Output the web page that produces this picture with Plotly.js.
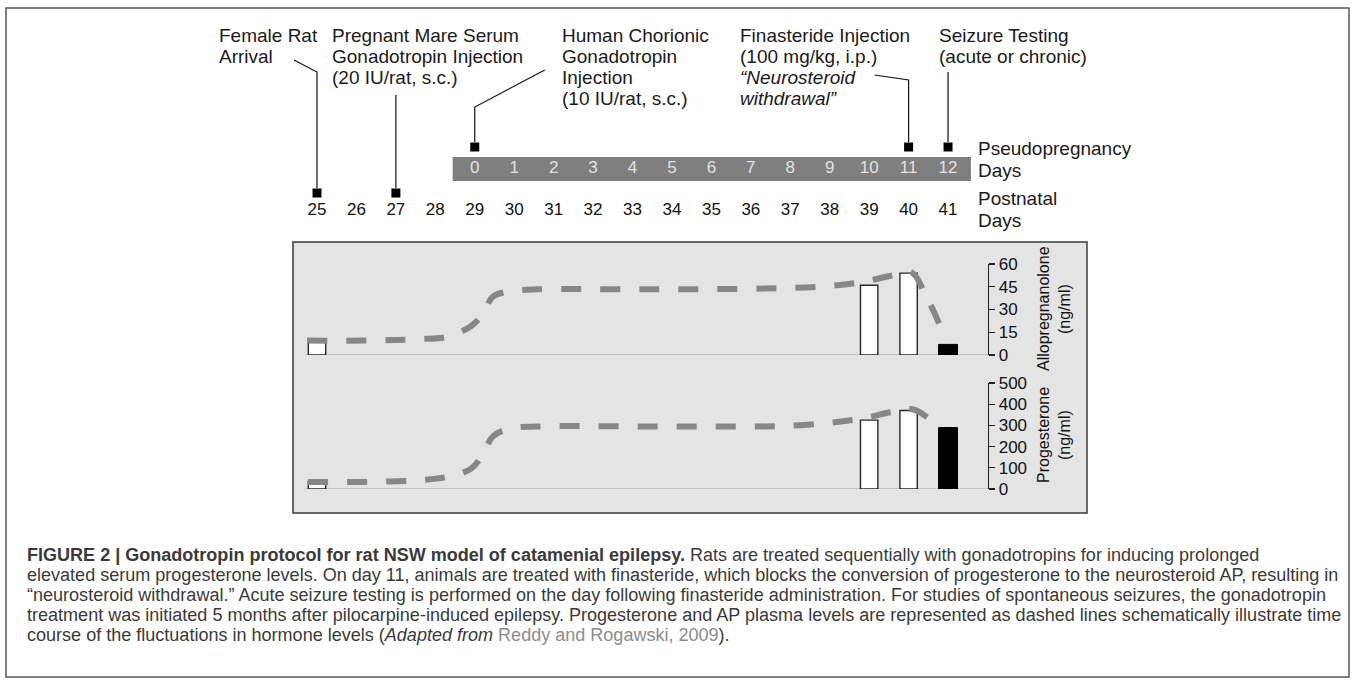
<!DOCTYPE html>
<html><head><meta charset="utf-8">
<script src="https://cdn.plot.ly/plotly-3.0.1.min.js"></script>
<style>html,body{margin:0;padding:0;background:#fff;}#chart{width:1355px;height:681px;}</style>
</head><body><div id="chart"></div>
<script>
// ---------------- DATA ----------------
const postnatalDays = [25,26,27,28,29,30,31,32,33,34,35,36,37,38,39,40,41];
const pseudoDayLabels = ['0','1','2','3','4','5','6','7','8','9','10','11','12'];
const pseudoDayZeroPostnatal = 29;           // pseudopregnancy day 0 = postnatal day 29
const eventDays = [25, 27, 29, 40, 41];       // postnatal days of protocol events
const eventTexts = [
  ['Female Rat','Arrival'],
  ['Pregnant Mare Serum','Gonadotropin Injection','(20 IU/rat, s.c.)'],
  ['Human Chorionic','Gonadotropin','Injection','(10 IU/rat, s.c.)'],
  ['Finasteride Injection','(100 mg/kg, i.p.)','<i>“Neurosteroid</i>','<i>withdrawal”</i>'],
  ['Seizure Testing','(acute or chronic)']
];
const whiteBarDays = [25, 39, 40];
const blackBarDays = [41];
const alloWhite = [10, 46, 54];
const alloBlack = [7];
const progWhite = [35, 325, 370];
const progBlack = [290];
const alloCurveDays = [24.75, 26.5, 27.6, 28.3, 28.9, 29.2, 29.46, 29.9, 30.6, 33.5, 36.7, 38.0, 38.9, 39.6, 40.1, 40.4, 40.65, 40.93];
const alloCurveVals = [9.5, 9.6, 10.5, 12, 19, 27, 38.5, 42, 43.3, 43.3, 44, 45.5, 48.5, 52.5, 54, 41, 28, 11];
const progCurveDays = [24.77, 26.5, 27.6, 28.3, 28.9, 29.2, 29.46, 29.9, 30.6, 33.5, 36.7, 38.0, 38.9, 39.6, 40.1, 40.5, 40.8];
const progCurveVals = [33, 34, 42, 57, 95, 162, 248, 286, 295, 295, 297, 312, 335, 365, 376, 335, 290];
const alloTicks = [0, 15, 30, 45, 60];
const progTicks = [0, 100, 200, 300, 400, 500];
const alloTitle = 'Allopregnanolone';
const progTitle = 'Progesterone';
const unitText = '(ng/ml)';
const captionLines = [
  '<b>FIGURE 2 | Gonadotropin protocol for rat NSW model of catamenial epilepsy.</b> Rats are treated sequentially with gonadotropins for inducing prolonged',
  'elevated serum progesterone levels. On day 11, animals are treated with finasteride, which blocks the conversion of progesterone to the neurosteroid AP, resulting in',
  '“neurosteroid withdrawal.” Acute seizure testing is performed on the day following finasteride administration. For studies of spontaneous seizures, the gonadotropin',
  'treatment was initiated 5 months after pilocarpine-induced epilepsy. Progesterone and AP plasma levels are represented as dashed lines schematically illustrate time',
  'course of the fluctuations in hormone levels (<i>Adapted from</i> <span style="color:#8c8c8c">Reddy and Rogawski, 2009</span>).'
];

// ---------------- LAYOUT GEOMETRY ----------------
const W = 1355, H = 681;
const PX_PER_DAY = 39.44, DAY25_PX = 317;
const x0 = 25 - DAY25_PX / PX_PER_DAY, x1 = x0 + W / PX_PER_DAY;
const FONT = 'Liberation Sans, Arial, Helvetica, sans-serif';
const px = v => v / W;
const dpx = p => p / PX_PER_DAY; // pixel offset -> day offset

function fitSize(text, target){
  const c = document.createElement('canvas').getContext('2d');
  c.font = '100px ' + FONT;
  return 100 * target / c.measureText(text).width;
}
const capSize = fitSize(captionLines[1], 1313);
const TOP_FONT = 19;

const traces = [];
const pseudoFrom = pseudoDayZeroPostnatal - 0.56;
const pseudoTo = pseudoDayZeroPostnatal + pseudoDayLabels.length - 1 + 0.58;
traces.push({type:'bar', orientation:'h', xaxis:'x', yaxis:'y', y:[169], base:[pseudoFrom], x:[pseudoTo - pseudoFrom],
  width:[24], marker:{color:'#7f7f7f', line:{width:0}}, hoverinfo:'skip', showlegend:false});
traces.push({type:'scatter', mode:'text', xaxis:'x', yaxis:'y',
  x: pseudoDayLabels.map((_, i) => pseudoDayZeroPostnatal + i), y: pseudoDayLabels.map(() => 169),
  text: pseudoDayLabels, textfont:{family:FONT, size:17, color:'#e2e2e2'}, hoverinfo:'skip', showlegend:false, cliponaxis:false});
traces.push({type:'scatter', mode:'text', xaxis:'x', yaxis:'y',
  x: postnatalDays, y: postnatalDays.map(() => 211),
  text: postnatalDays.map(String), textfont:{family:FONT, size:17, color:'#111'}, hoverinfo:'skip', showlegend:false, cliponaxis:false});
traces.push({type:'scatter', mode:'markers', xaxis:'x', yaxis:'y',
  x: eventDays, y: eventDays.map(d => d >= pseudoDayZeroPostnatal ? 147 : 193),
  marker:{symbol:'square', size:9, color:'#000'}, hoverinfo:'skip', showlegend:false, cliponaxis:false});
// leader lines (pixel offsets from event day / pixel rows)
const leaderShapes = [
  [[-23,60],[0,72],[0,188]],
  [[0,95],[0,188]],
  [[70,70],[0,107],[0,142]],
  [[-34,75],[0,80],[0,142]],
  [[0,72],[0,142]]
];
eventDays.forEach((d, i) => {
  const pts = leaderShapes[i];
  traces.push({type:'scatter', mode:'lines', xaxis:'x', yaxis:'y',
    x: pts.map(p => d + dpx(p[0])), y: pts.map(p => p[1]),
    line:{color:'#111', width:1.2}, hoverinfo:'skip', showlegend:false});
});
const barCommon = {type:'bar', xaxis:'x', hoverinfo:'skip', showlegend:false};
traces.push(Object.assign({}, barCommon, {yaxis:'y2', x:whiteBarDays, y:alloWhite, width:0.44, marker:{color:'#fff', line:{color:'#262626', width:1.4}}}));
traces.push(Object.assign({}, barCommon, {yaxis:'y2', x:blackBarDays, y:alloBlack, width:0.48, marker:{color:'#000', line:{color:'#000', width:1}}}));
traces.push(Object.assign({}, barCommon, {yaxis:'y3', x:whiteBarDays, y:progWhite, width:0.44, marker:{color:'#fff', line:{color:'#262626', width:1.4}}}));
traces.push(Object.assign({}, barCommon, {yaxis:'y3', x:blackBarDays, y:progBlack, width:0.48, marker:{color:'#000', line:{color:'#000', width:1}}}));
const dashLine = {color:'#878787', width:6, dash:'20px,19px', shape:'spline', smoothing:1};
traces.push({type:'scatter', mode:'lines', xaxis:'x', yaxis:'y2', x:alloCurveDays, y:alloCurveVals, line:dashLine, hoverinfo:'skip', showlegend:false});
traces.push({type:'scatter', mode:'lines', xaxis:'x', yaxis:'y3', x:progCurveDays, y:progCurveVals, line:dashLine, hoverinfo:'skip', showlegend:false});

const annotations = [];
const eventTextX = [217, 330, 560, 738, 937];
eventTexts.forEach((lines, i) => {
  lines.forEach((t, j) => annotations.push({xref:'paper', yref:'y', x:px(eventTextX[i]), y:35 + j*21, text:t,
    xanchor:'left', yanchor:'middle', showarrow:false, font:{family:FONT, size:TOP_FONT, color:'#1a1a1a'}}));
});
[['Pseudopregnancy',148],['Days',170],['Postnatal',198],['Days',220]].forEach(([t, y]) =>
  annotations.push({xref:'paper', yref:'y', x:px(976), y:y, text:t, xanchor:'left', yanchor:'middle', showarrow:false,
    font:{family:FONT, size:TOP_FONT, color:'#1a1a1a'}}));
[[alloTitle, 309],[progTitle, 435]].forEach(([t, y]) => {
  annotations.push({xref:'paper', yref:'y', x:px(1043), y:y, text:t, textangle:-90, xanchor:'center', yanchor:'middle', showarrow:false, font:{family:FONT, size:16, color:'#111'}});
  annotations.push({xref:'paper', yref:'y', x:px(1064), y:y, text:unitText, textangle:-90, xanchor:'center', yanchor:'middle', showarrow:false, font:{family:FONT, size:16, color:'#111'}});
});
captionLines.forEach((t, i) => annotations.push({xref:'paper', yref:'y', x:px(25), y:555 + i*20, text:t,
  xanchor:'left', yanchor:'middle', showarrow:false, font:{family:FONT, size:capSize, color:'#3a3a3a'}}));

const shapes = [
  {type:'rect', layer:'below', xref:'paper', yref:'y', x0:px(293), x1:px(1087), y0:242, y1:513, fillcolor:'#e4e4e4', line:{color:'#3a3a3a', width:1.5}},
  {type:'line', layer:'below', xref:'paper', yref:'y2', x0:px(305), x1:px(988), y0:0, y1:0, line:{color:'#9a9a9a', width:1.2}},
  {type:'line', layer:'below', xref:'paper', yref:'y3', x0:px(305), x1:px(988), y0:0, y1:0, line:{color:'#9a9a9a', width:1.2}},
  {type:'rect', layer:'above', xref:'paper', yref:'y', x0:px(6), x1:px(1349), y0:8, y1:677, fillcolor:'rgba(0,0,0,0)', line:{color:'#555', width:1.5}}
];

const sideAxis = (range, ticks, dom) => ({domain:dom, range:range, anchor:'free', position:px(988), side:'right',
  showline:true, linecolor:'#222', linewidth:1.3, ticks:'outside', ticklen:6, tickwidth:1.3, tickcolor:'#222',
  tickvals:ticks, ticktext:ticks.map(String), tickfont:{family:FONT, size:17, color:'#111'},
  showgrid:false, zeroline:false, fixedrange:true});

const layout = {
  width:W, height:H, autosize:false, margin:{l:0, r:0, t:0, b:0, pad:0},
  paper_bgcolor:'#fff', plot_bgcolor:'rgba(0,0,0,0)', barmode:'overlay', showlegend:false,
  xaxis:{domain:[0,1], range:[x0, x1], anchor:'y', visible:false, fixedrange:true},
  yaxis:{domain:[0,1], range:[H, 0], visible:false, fixedrange:true},
  yaxis2: sideAxis([0,60], alloTicks, [(H-355)/H, (H-264)/H]),
  yaxis3: sideAxis([0,500], progTicks, [(H-489)/H, (H-383)/H]),
  annotations:annotations, shapes:shapes
};
Plotly.newPlot('chart', traces, layout, {staticPlot:true, displayModeBar:false});
</script></body></html>
